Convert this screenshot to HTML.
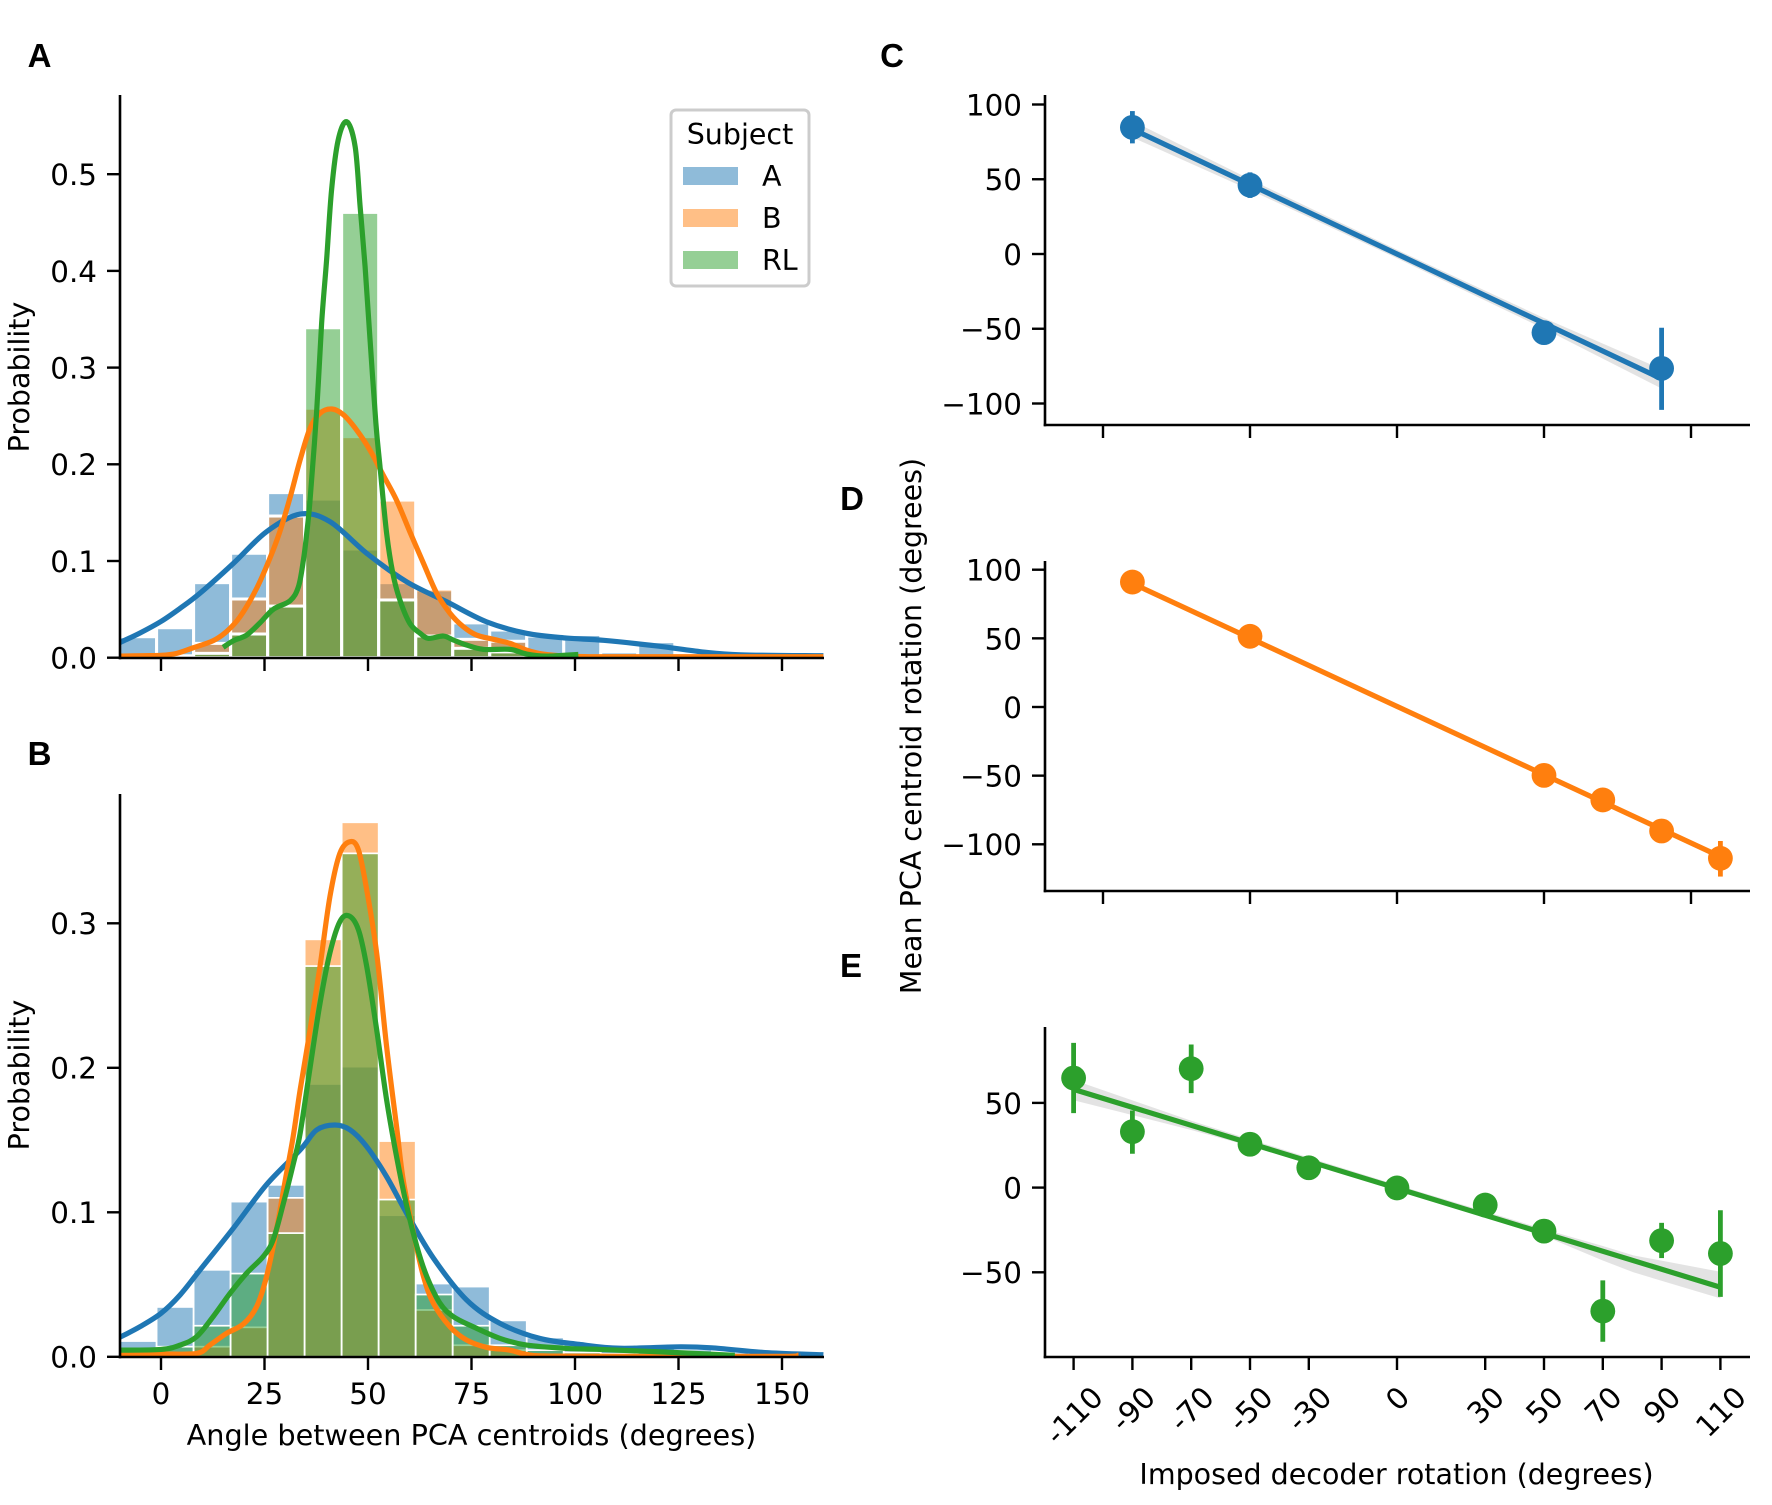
<!DOCTYPE html>
<html lang="en">
<head>
<meta charset="utf-8">
<title>PCA centroid angle and rotation figure</title>
<style>
html,body{margin:0;padding:0;background:#fff;width:1772px;height:1505px;overflow:hidden}
svg{display:block}
text{font-family:"DejaVu Sans","Liberation Sans",sans-serif;fill:#000;font-size:28.5px}
.tick{font-size:29.4px}
.letter{font-family:"Liberation Sans",sans-serif;font-weight:700;font-size:33px}
</style>
</head>
<body>
<svg id="figure" xmlns="http://www.w3.org/2000/svg" width="1772" height="1505" viewBox="0 0 1772 1505">
  <rect width="1772" height="1505" fill="#fff"/>
  <defs>
    <clipPath id="clipA"><rect x="120" y="80" width="704" height="578"/></clipPath>
    <clipPath id="clipB"><rect x="120" y="780" width="704" height="577"/></clipPath>
  </defs>
  <g id="panelA"></g>
  <g id="panelB"></g>
  <g id="panelC"></g>
  <g id="panelD"></g>
  <g id="panelE"></g>

  <text class="letter" x="39.5" y="67" text-anchor="middle">A</text>
  <text class="letter" x="39.5" y="765" text-anchor="middle">B</text>
  <text class="letter" x="892" y="67" text-anchor="middle">C</text>
  <text class="letter" x="852" y="510" text-anchor="middle">D</text>
  <text class="letter" x="851" y="977" text-anchor="middle">E</text>

  <text transform="translate(29,377) rotate(-90)" text-anchor="middle">Probability</text>
  <text transform="translate(29,1075) rotate(-90)" text-anchor="middle">Probability</text>
  <text x="471.5" y="1445" text-anchor="middle" style="font-size:28.7px">Angle between PCA centroids (degrees)</text>
  <text transform="translate(921,726) rotate(-90)" text-anchor="middle">Mean PCA centroid rotation (degrees)</text>
  <text x="1396.5" y="1484" text-anchor="middle">Imposed decoder rotation (degrees)</text>

  <g>
    <rect x="671" y="110" width="138" height="176" rx="5" fill="#fff" fill-opacity="0.8" stroke="#ccc" stroke-width="3"/>
    <text x="740" y="144" text-anchor="middle">Subject</text>
    <rect x="683" y="167" width="55" height="18" fill="#1f77b4" fill-opacity="0.5"/>
    <text x="762" y="186">A</text>
    <rect x="683" y="209" width="55" height="18" fill="#ff7f0e" fill-opacity="0.5"/>
    <text x="762" y="228">B</text>
    <rect x="683" y="251" width="55" height="18" fill="#2ca02c" fill-opacity="0.5"/>
    <text x="762" y="270">RL</text>
  </g>
</svg>

<script>
const binEdges = [-10,-1.06,7.88,16.82,25.76,34.7,43.64,52.58,61.52,70.46,79.4,88.34,97.28,106.22,115.16,124.1,133.04,141.98,150.92,159.86];

const histATopBlue   = [.0217,.031,.0776,.108,.1707,.164,.1124,.0776,.07,.036,.0286,.0224,.024,.006,.0166,.002,0,0,0];
const histATopOrange = [0,.002,.0148,.0607,.1465,.258,.2286,.163,.071,.019,.017,.001,0,0,0,0,0,0,0];
const histATopGreen  = [0,0,.0045,.0245,.0534,.3412,.4605,.0597,.0224,.0097,.006,0,0,0,0,0,0,0,0];

const histBTopBlue   = [.0109,.0345,.0602,.1074,.119,.1888,.2008,.098,.0507,.0486,.0252,.0134,.009,.007,.0075,.005,.003,.002,0];
const histBTopOrange = [0,.002,.007,.0204,.11,.2889,.3699,.1493,.0324,.008,.0046,.001,0,0,0,0,0,0,0];
const histBTopGreen  = [.002,.007,.0215,.0576,.0856,.2704,.3484,.1088,.0431,.0215,.008,.0046,.003,.002,0,0,0,0,0];

const kdeADegBlue  = [-10,-5.1,0,4.6,9.4,17.5,25.5,33.6,40.8,49.7,59.3,69,78.6,88.3,98,106.9,120,130.7,140,160];
const kdeAProbBlue = [.0155,.0255,.0375,.051,.0666,.0976,.1303,.1485,.1407,.1079,.0786,.0579,.0372,.0252,.0203,.018,.012,.006,.003,.002];
const kdeADegOrange  = [-10,-4.3,0,3.8,7.8,12.6,15.8,19.1,23.1,26.3,28.7,31.2,33.6,36,38.4,41.3,44.1,47.3,50.5,53.7,56.9,60.1,63.4,66.6,69.8,73,76.2,80.3,84.3,88.3,92.3,98,106,120,160];
const kdeAProbOrange = [.0017,.0021,.0024,.0045,.0103,.0176,.0269,.0424,.0717,.1028,.1303,.166,.2045,.2372,.2528,.2572,.2511,.2352,.2145,.1886,.1628,.1303,.0976,.0666,.046,.0321,.0234,.019,.0148,.0079,.0038,.0017,.001,.001,.001];
const kdeADegGreen  = [15,17.5,20.7,23.9,27.1,31.2,33.2,34.4,35.2,36,37.6,38.8,40,41.2,42.8,44.85,46.9,48.1,49.3,50.5,51.9,52.9,54.5,56,57.7,60.1,62.6,64.6,68.2,70.6,73.8,77.9,84.3,88.3,93,100.8];
const kdeAProbGreen = [.0107,.0176,.0234,.036,.05,.059,.0734,.101,.1286,.163,.255,.346,.4113,.4837,.5354,.5543,.5284,.4664,.4043,.3285,.2427,.1976,.1286,.0872,.0597,.0355,.0252,.02,.0224,.0183,.0131,.0086,.0086,.0038,.0017,.0034];

const kdeBDegBlue  = [-10,-5.1,0,4.6,9.4,17.5,25.5,33.6,37.6,42,45.7,49.7,54.5,59.3,65.8,73.8,81.9,91.5,101,110.8,125.4,133,146.6,160];
const kdeBProbBlue = [.0134,.0208,.0301,.0428,.06,.0891,.1192,.1431,.157,.1604,.157,.1454,.1246,.0995,.0683,.0394,.0231,.0127,.0086,.0059,.0069,.0062,.0028,.0014];
const kdeBDegOrange  = [-10,0,8.6,11.8,15.8,19.9,23.1,25.5,27.9,29.9,31.9,33.6,36,38.4,40.8,43.2,45.7,47.7,49.7,52.1,54.5,56.9,58.5,61,63.4,65.8,69.8,73.8,78.7,84.3,88.3,94,120,150,154];
const kdeBProbOrange = [.0016,.0019,.0023,.0081,.0162,.0227,.0347,.0556,.088,.1204,.152,.1846,.2261,.27,.3184,.3484,.3565,.3507,.323,.2792,.2146,.1593,.1224,.0856,.0556,.037,.0208,.0116,.0065,.0046,.0016,.0005,.0003,.0003,.0012];
const kdeBDegGreen  = [-10,0,4.6,8.6,12.6,16.7,20.7,24.7,27.1,29.5,32,33.6,36,38.4,40.8,43.2,45.4,47.7,49.7,52.1,54.5,56.9,59.3,61.8,64.2,67.4,70.6,75.4,81.9,88.3,98,106,120,138.6];
const kdeBProbGreen = [.0046,.0051,.0081,.0139,.0278,.044,.0579,.0694,.081,.1055,.134,.1545,.2,.2445,.2795,.3011,.3051,.2954,.27,.2262,.1777,.1385,.105,.0764,.0556,.037,.0278,.0208,.0127,.0081,.0058,.0051,.0035,.001];

const histXTicks = [0,25,50,75,100,125,150];
const histAYTicks = [0,.1,.2,.3,.4,.5];
const histBYTicks = [0,.1,.2,.3];

const sharedXTicks = [-100,-50,0,50,100];
const rotYTicksC = [-100,-50,0,50,100];
const rotYTicksD = [-100,-50,0,50,100];
const rotYTicksE = [-50,0,50];
const rotXTicksE = [-110,-90,-70,-50,-30,0,30,50,70,90,110];

const rotCX    = [-90,-50,50,90];
const rotCMean = [84.7,46,-52.6,-76.5];
const rotCLow  = [74,37.5,-59,-104.3];
const rotCHigh = [95.6,54.6,-46,-49.3];
const regCX    = [-90,90];
const regCY    = [83.5,-83.5];
const bandCX   = [-90,-50,0,50,90];
const bandCHi  = [89,50,2.8,-42.8,-77];
const bandCLo  = [78,42.8,-2.8,-50,-90];

const rotDX    = [-90,-50,50,70,90,110];
const rotDMean = [91,51.5,-49.8,-67.7,-90.3,-110.2];
const rotDLow  = [89,50,-51,-69.5,-92,-123.5];
const rotDHigh = [93,53,-48.5,-66,-88.5,-97.6];
const regDX    = [-90,110];
const regDY    = [90,-109];
const bandDX   = [-90,0,110];
const bandDHi  = [91,.4,-108];
const bandDLo  = [89,-.4,-110];

const rotEX    = [-110,-90,-70,-50,-30,0,30,50,70,90,110];
const rotEMean = [64.7,33,70.2,25.6,11.7,-.2,-10.3,-25.7,-72.9,-31.3,-38.9];
const rotELow  = [44,20,55.8,22.5,8.7,-3,-13.3,-28.7,-91,-41.6,-64.5];
const rotEHigh = [85.4,45.5,84.5,28.7,14.7,2.6,-7.3,-22.7,-54.8,-20.8,-13.4];
const regEX    = [-110,110];
const regEY    = [58,-58.8];
const bandEX   = [-110,-70,-50,0,50,70,80.4,110];
const bandEHi  = [63.5,39.5,28.5,1.5,-24.5,-34.5,-40,-49.7];
const bandELo  = [51.6,34,24.5,-1.5,-28.5,-43,-50,-65.4];

const SVGNS = 'http://www.w3.org/2000/svg';
const BLUE = '#1f77b4', ORANGE = '#ff7f0e', GREEN = '#2ca02c';
const BASE = 10.9;

const xHist = d => 161 + 4.14 * d;
const yHistA = p => 657.7 - 967 * p;
const yHistB = p => 1356.8 - 1445 * p;
const xRot = d => 1397 + 2.94 * d;
const yRotC = v => 254 - 1.495 * v;
const yRotD = v => 707 - 1.373 * v;
const yRotE = v => 1187.6 - 1.694 * v;

function mk(parent, tag, props) {
  const el = document.createElementNS(SVGNS, tag);
  for (const k in props) el.setAttribute(k, props[k]);
  parent.appendChild(el);
  return el;
}
const fmt = (v, d) => (v < 0 ? '\u2212' : '') + Math.abs(v).toFixed(d);

function drawBars(parent, tops, scaleY, color, sw, label) {
  const g = mk(parent, 'g', {});
  
  
  tops.forEach((t, i) => {
    if (t <= 0) return;
    const x0 = xHist(binEdges[i]), x1 = xHist(binEdges[i + 1]);
    const r = mk(g, 'rect', {x: x0, y: scaleY(t), width: x1 - x0, height: scaleY(0) - scaleY(t), fill: color, 'fill-opacity': .5, stroke: '#fff', 'stroke-width': sw});
    
    
  });
}

function smoothPath(xs, ys) {
  let d = 'M' + xs[0].toFixed(2) + ',' + ys[0].toFixed(2);
  for (let i = 0; i < xs.length - 1; i++) {
    const i0 = Math.max(0, i - 1), i3 = Math.min(xs.length - 1, i + 2);
    const c1x = xs[i] + (xs[i + 1] - xs[i0]) / 6, c1y = ys[i] + (ys[i + 1] - ys[i0]) / 6;
    const c2x = xs[i + 1] - (xs[i3] - xs[i]) / 6, c2y = ys[i + 1] - (ys[i3] - ys[i]) / 6;
    d += 'C' + c1x.toFixed(2) + ',' + c1y.toFixed(2) + ' ' + c2x.toFixed(2) + ',' + c2y.toFixed(2) + ' ' + xs[i + 1].toFixed(2) + ',' + ys[i + 1].toFixed(2);
  }
  return d;
}

function drawKde(parent, degs, probs, scaleY, color, clip, label) {
  const p = mk(parent, 'path', {d: smoothPath(degs.map(xHist), probs.map(scaleY)), fill: 'none', stroke: color, 'stroke-width': 5.2, 'stroke-linejoin': 'round', 'clip-path': 'url(#' + clip + ')'});
  
  
}

function drawAxes(parent, o) {
  const sy = mk(parent, 'line', {x1: o.left, x2: o.left, y1: o.top, y2: o.bottom + 1.3, stroke: '#000', 'stroke-width': 2.6});
  
  
  const sx = mk(parent, 'line', {x1: o.left - 1.3, x2: o.right, y1: o.bottom, y2: o.bottom, stroke: '#000', 'stroke-width': 2.6});
  
  
  o.yTicks.forEach(v => {
    const y = o.sy(v);
    const t = mk(parent, 'line', {x1: o.left - 13, x2: o.left, y1: y, y2: y, stroke: '#000', 'stroke-width': 2.4});
    
    
    const l = mk(parent, 'text', {x: o.left - 23, y: y + BASE, 'text-anchor': 'end', class: 'tick'});
    l.textContent = fmt(v, o.yDigits);
    
    
  });
  o.xTicks.forEach(v => {
    const x = o.sx(v);
    const t = mk(parent, 'line', {x1: x, x2: x, y1: o.bottom, y2: o.bottom + 13, stroke: '#000', 'stroke-width': 2.4});
    
    
    if (o.xLabels === 'plain') {
      const l = mk(parent, 'text', {x: x, y: o.bottom + 47, 'text-anchor': 'middle', class: 'tick'});
      l.textContent = String(v);
      
      
    } else if (o.xLabels === 'rotated') {
      const l = mk(parent, 'text', {'text-anchor': 'middle', class: 'tick'});
      l.textContent = String(v);
      const w = l.getComputedTextLength();
      const cy = o.bottom + 27 + (w + 21) * 0.7071 / 2;
      l.setAttribute('transform', 'translate(' + x + ',' + cy + ') rotate(-45) translate(0,' + BASE + ')');
      
      
    }
  });
}

function drawRegression(parent, o) {
  const up = o.bandX.map((x, i) => xRot(x).toFixed(2) + ',' + o.sy(o.bandHi[i]).toFixed(2));
  const lo = o.bandX.map((x, i) => xRot(x).toFixed(2) + ',' + o.sy(o.bandLo[i]).toFixed(2)).reverse();
  const b = mk(parent, 'polygon', {points: up.concat(lo).join(' '), fill: '#808080', 'fill-opacity': .22});
  
  
  const r = mk(parent, 'line', {x1: xRot(o.regX[0]), y1: o.sy(o.regY[0]), x2: xRot(o.regX[1]), y2: o.sy(o.regY[1]), stroke: o.color, 'stroke-width': 5.2});
  
  
  o.x.forEach((d, i) => {
    const e = mk(parent, 'line', {x1: xRot(d), x2: xRot(d), y1: o.sy(o.low[i]), y2: o.sy(o.high[i]), stroke: o.color, 'stroke-width': 4.8});
    
    
    const c = mk(parent, 'circle', {cx: xRot(d), cy: o.sy(o.mean[i]), r: 12.4, fill: o.color});
    
    
  });
}

const pA = document.getElementById('panelA');
drawBars(pA, histATopBlue, yHistA, BLUE, 3, 'a');
drawBars(pA, histATopOrange, yHistA, ORANGE, 3, 'b');
drawBars(pA, histATopGreen, yHistA, GREEN, 3, 'rl');
drawKde(pA, kdeADegBlue, kdeAProbBlue, yHistA, BLUE, 'clipA', 'a');
drawKde(pA, kdeADegOrange, kdeAProbOrange, yHistA, ORANGE, 'clipA', 'b');
drawKde(pA, kdeADegGreen, kdeAProbGreen, yHistA, GREEN, 'clipA', 'rl');
drawAxes(pA, {left: 120, right: 824, top: 95, bottom: 658, sx: xHist, sy: yHistA, xTicks: histXTicks, yTicks: histAYTicks, yDigits: 1, xLabels: 'none'});

const pB = document.getElementById('panelB');
drawBars(pB, histBTopBlue, yHistB, BLUE, 1.7, 'a');
drawBars(pB, histBTopOrange, yHistB, ORANGE, 1.7, 'b');
drawBars(pB, histBTopGreen, yHistB, GREEN, 1.7, 'rl');
drawKde(pB, kdeBDegBlue, kdeBProbBlue, yHistB, BLUE, 'clipB', 'a');
drawKde(pB, kdeBDegOrange, kdeBProbOrange, yHistB, ORANGE, 'clipB', 'b');
drawKde(pB, kdeBDegGreen, kdeBProbGreen, yHistB, GREEN, 'clipB', 'rl');
drawAxes(pB, {left: 120, right: 824, top: 794, bottom: 1357, sx: xHist, sy: yHistB, xTicks: histXTicks, yTicks: histBYTicks, yDigits: 1, xLabels: 'plain'});

const pC = document.getElementById('panelC');
drawAxes(pC, {left: 1045, right: 1750, top: 95, bottom: 425, sx: xRot, sy: yRotC, xTicks: sharedXTicks, yTicks: rotYTicksC, yDigits: 0, xLabels: 'none'});
drawRegression(pC, {sy: yRotC, color: BLUE, x: rotCX, mean: rotCMean, low: rotCLow, high: rotCHigh, regX: regCX, regY: regCY, bandX: bandCX, bandHi: bandCHi, bandLo: bandCLo});

const pD = document.getElementById('panelD');
drawAxes(pD, {left: 1045, right: 1750, top: 561, bottom: 891, sx: xRot, sy: yRotD, xTicks: sharedXTicks, yTicks: rotYTicksD, yDigits: 0, xLabels: 'none'});
drawRegression(pD, {sy: yRotD, color: ORANGE, x: rotDX, mean: rotDMean, low: rotDLow, high: rotDHigh, regX: regDX, regY: regDY, bandX: bandDX, bandHi: bandDHi, bandLo: bandDLo});

const pE = document.getElementById('panelE');
drawAxes(pE, {left: 1045, right: 1750, top: 1027, bottom: 1357, sx: xRot, sy: yRotE, xTicks: rotXTicksE, yTicks: rotYTicksE, yDigits: 0, xLabels: 'rotated'});
drawRegression(pE, {sy: yRotE, color: GREEN, x: rotEX, mean: rotEMean, low: rotELow, high: rotEHigh, regX: regEX, regY: regEY, bandX: bandEX, bandHi: bandEHi, bandLo: bandELo});
</script>
</body>
</html>
